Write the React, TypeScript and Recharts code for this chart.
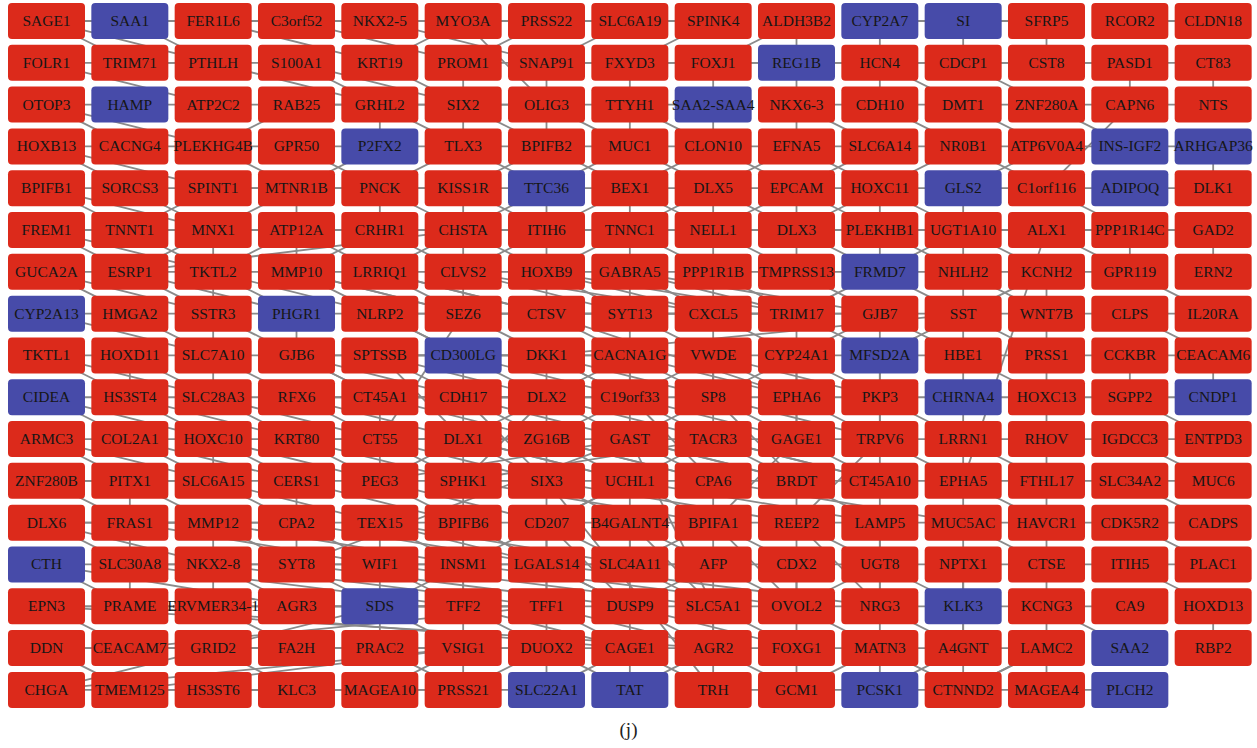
import React from "react";
import { ScatterChart, Scatter, XAxis, YAxis } from "recharts";

const row01 = ["SAGE1","SAA1","FER1L6","C3orf52","NKX2-5","MYO3A","PRSS22","SLC6A19","SPINK4","ALDH3B2","CYP2A7","SI","SFRP5","RCOR2","CLDN18"];
const row02 = ["FOLR1","TRIM71","PTHLH","S100A1","KRT19","PROM1","SNAP91","FXYD3","FOXJ1","REG1B","HCN4","CDCP1","CST8","PASD1","CT83"];
const row03 = ["OTOP3","HAMP","ATP2C2","RAB25","GRHL2","SIX2","OLIG3","TTYH1","SAA2-SAA4","NKX6-3","CDH10","DMT1","ZNF280A","CAPN6","NTS"];
const row04 = ["HOXB13","CACNG4","PLEKHG4B","GPR50","P2FX2","TLX3","BPIFB2","MUC1","CLON10","EFNA5","SLC6A14","NR0B1","ATP6V0A4","INS-IGF2","ARHGAP36"];
const row05 = ["BPIFB1","SORCS3","SPINT1","MTNR1B","PNCK","KISS1R","TTC36","BEX1","DLX5","EPCAM","HOXC11","GLS2","C1orf116","ADIPOQ","DLK1"];
const row06 = ["FREM1","TNNT1","MNX1","ATP12A","CRHR1","CHSTA","ITIH6","TNNC1","NELL1","DLX3","PLEKHB1","UGT1A10","ALX1","PPP1R14C","GAD2"];
const row07 = ["GUCA2A","ESRP1","TKTL2","MMP10","LRRIQ1","CLVS2","HOXB9","GABRA5","PPP1R1B","TMPRSS13","FRMD7","NHLH2","KCNH2","GPR119","ERN2"];
const row08 = ["CYP2A13","HMGA2","SSTR3","PHGR1","NLRP2","SEZ6","CTSV","SYT13","CXCL5","TRIM17","GJB7","SST","WNT7B","CLPS","IL20RA"];
const row09 = ["TKTL1","HOXD11","SLC7A10","GJB6","SPTSSB","CD300LG","DKK1","CACNA1G","VWDE","CYP24A1","MFSD2A","HBE1","PRSS1","CCKBR","CEACAM6"];
const row10 = ["CIDEA","HS3ST4","SLC28A3","RFX6","CT45A1","CDH17","DLX2","C19orf33","SP8","EPHA6","PKP3","CHRNA4","HOXC13","SGPP2","CNDP1"];
const row11 = ["ARMC3","COL2A1","HOXC10","KRT80","CT55","DLX1","ZG16B","GAST","TACR3","GAGE1","TRPV6","LRRN1","RHOV","IGDCC3","ENTPD3"];
const row12 = ["ZNF280B","PITX1","SLC6A15","CERS1","PEG3","SPHK1","SIX3","UCHL1","CPA6","BRDT","CT45A10","EPHA5","FTHL17","SLC34A2","MUC6"];
const row13 = ["DLX6","FRAS1","MMP12","CPA2","TEX15","BPIFB6","CD207","B4GALNT4","BPIFA1","REEP2","LAMP5","MUC5AC","HAVCR1","CDK5R2","CADPS"];
const row14 = ["CTH","SLC30A8","NKX2-8","SYT8","WIF1","INSM1","LGALS14","SLC4A11","AFP","CDX2","UGT8","NPTX1","CTSE","ITIH5","PLAC1"];
const row15 = ["EPN3","PRAME","ERVMER34-1","AGR3","SDS","TFF2","TFF1","DUSP9","SLC5A1","OVOL2","NRG3","KLK3","KCNG3","CA9","HOXD13"];
const row16 = ["DDN","CEACAM7","GRID2","FA2H","PRAC2","VSIG1","DUOX2","CAGE1","AGR2","FOXG1","MATN3","A4GNT","LAMC2","SAA2","RBP2"];
const row17 = ["CHGA","TMEM125","HS3ST6","KLC3","MAGEA10","PRSS21","SLC22A1","TAT","TRH","GCM1","PCSK1","CTNND2","MAGEA4","PLCH2"];

const gridRows = [row01,row02,row03,row04,row05,row06,row07,row08,row09,row10,row11,row12,row13,row14,row15,row16,row17];

const blueGenes = ["SAA1","CYP2A7","SI","REG1B","HAMP","SAA2-SAA4","P2FX2","INS-IGF2","ARHGAP36","TTC36","GLS2","ADIPOQ","FRMD7","CYP2A13","PHGR1","CD300LG","MFSD2A","CIDEA","CHRNA4","CNDP1","CTH","SDS","KLK3","SAA2","SLC22A1","TAT","PCSK1","PLCH2"];

const edges = [
"SAGE1|SAA1","SAA1|FER1L6","FER1L6|C3orf52","C3orf52|NKX2-5","NKX2-5|MYO3A","MYO3A|PRSS22","PRSS22|SLC6A19","SLC6A19|SPINK4","ALDH3B2|REG1B","CYP2A7|SI","SI|SFRP5","RCOR2|CLDN18","SAGE1|TRIM71","SAA1|PTHLH","FOLR1|PTHLH","TRIM71|S100A1","C3orf52|PROM1","NKX2-5|SNAP91","MYO3A|KRT19","FER1L6|KRT19","S100A1|GRHL2","PROM1|FXYD3","SNAP91|FOXJ1","FXYD3|HCN4","FOXJ1|CDCP1","HCN4|CST8","CDCP1|PASD1","CST8|CT83","SFRP5|CST8","PASD1|CAPN6","CT83|NTS",
"OTOP3|HAMP","HAMP|ATP2C2","ATP2C2|RAB25","RAB25|GRHL2","GRHL2|SIX2","SIX2|OLIG3","OLIG3|TTYH1","TTYH1|SAA2-SAA4","NKX6-3|CDH10","CDH10|DMT1","DMT1|ZNF280A","ZNF280A|CAPN6","CAPN6|NTS","OTOP3|CACNG4","RAB25|PLEKHG4B","GRHL2|TLX3","SIX2|BPIFB2","OLIG3|MUC1","TTYH1|CLON10","NKX6-3|SLC6A14","CDH10|NR0B1","DMT1|ATP6V0A4","ZNF280A|INS-IGF2",
"HOXB13|CACNG4","CACNG4|PLEKHG4B","PLEKHG4B|GPR50","GPR50|P2FX2","P2FX2|TLX3","TLX3|BPIFB2","BPIFB2|MUC1","MUC1|CLON10","CLON10|EFNA5","EFNA5|SLC6A14","SLC6A14|NR0B1","NR0B1|ATP6V0A4","ATP6V0A4|INS-IGF2","INS-IGF2|ARHGAP36","HOXB13|SORCS3","PLEKHG4B|MTNR1B","GPR50|PNCK","TLX3|TTC36","BPIFB2|BEX1","MUC1|DLX5","CLON10|EPCAM","EFNA5|HOXC11","NR0B1|C1orf116","ARHGAP36|DLK1",
"BPIFB1|SORCS3","SORCS3|SPINT1","SPINT1|MTNR1B","MTNR1B|PNCK","PNCK|KISS1R","KISS1R|TTC36","TTC36|BEX1","BEX1|DLX5","DLX5|EPCAM","EPCAM|HOXC11","HOXC11|GLS2","GLS2|C1orf116","C1orf116|ADIPOQ","ADIPOQ|DLK1","BPIFB1|TNNT1","SORCS3|MNX1","MTNR1B|ATP12A","PNCK|CHSTA","KISS1R|ITIH6","BEX1|NELL1","DLX5|DLX3","EPCAM|PLEKHB1","HOXC11|UGT1A10","C1orf116|PPP1R14C",
"FREM1|TNNT1","TNNT1|MNX1","MNX1|ATP12A","ATP12A|CRHR1","CRHR1|CHSTA","CHSTA|ITIH6","ITIH6|TNNC1","TNNC1|NELL1","NELL1|DLX3","DLX3|PLEKHB1","PLEKHB1|UGT1A10","UGT1A10|ALX1","ALX1|PPP1R14C","PPP1R14C|GAD2","FREM1|ESRP1","TNNT1|TKTL2","ATP12A|LRRIQ1","CRHR1|CLVS2","CHSTA|HOXB9","TNNC1|PPP1R1B","NELL1|TMPRSS13","DLX3|FRMD7","UGT1A10|KCNH2","ALX1|GPR119","GAD2|ERN2",
"GUCA2A|ESRP1","ESRP1|TKTL2","TKTL2|MMP10","MMP10|LRRIQ1","LRRIQ1|CLVS2","CLVS2|HOXB9","HOXB9|GABRA5","GABRA5|PPP1R1B","PPP1R1B|TMPRSS13","TMPRSS13|FRMD7","FRMD7|NHLH2","NHLH2|KCNH2","KCNH2|GPR119","GUCA2A|HMGA2","ESRP1|SSTR3","TKTL2|PHGR1","MMP10|NLRP2","LRRIQ1|SEZ6","HOXB9|SYT13","GABRA5|CXCL5","PPP1R1B|TRIM17","FRMD7|SST","NHLH2|WNT7B","GPR119|IL20RA",
"CYP2A13|HMGA2","HMGA2|SSTR3","SSTR3|PHGR1","PHGR1|NLRP2","NLRP2|SEZ6","SEZ6|CTSV","CTSV|SYT13","SYT13|CXCL5","CXCL5|TRIM17","TRIM17|GJB7","GJB7|SST","SST|WNT7B","WNT7B|CLPS","CLPS|IL20RA","HMGA2|SLC7A10","SSTR3|GJB6","NLRP2|CD300LG","SEZ6|DKK1","CTSV|CACNA1G","SYT13|VWDE","CXCL5|CYP24A1","GJB7|HBE1","SST|PRSS1","CLPS|CEACAM6",
"TKTL1|HOXD11","HOXD11|SLC7A10","SLC7A10|GJB6","GJB6|SPTSSB","SPTSSB|CD300LG","CD300LG|DKK1","DKK1|CACNA1G","CACNA1G|VWDE","VWDE|CYP24A1","CYP24A1|MFSD2A","MFSD2A|HBE1","HBE1|PRSS1","PRSS1|CCKBR","CCKBR|CEACAM6","TKTL1|HS3ST4","GJB6|CT45A1","SPTSSB|CDH17","DKK1|C19orf33","CACNA1G|SP8","VWDE|EPHA6","CYP24A1|PKP3","HBE1|HOXC13","CCKBR|SGPP2","CEACAM6|CNDP1",
"CIDEA|HS3ST4","HS3ST4|SLC28A3","SLC28A3|RFX6","RFX6|CT45A1","CT45A1|CDH17","CDH17|DLX2","DLX2|C19orf33","C19orf33|SP8","SP8|EPHA6","EPHA6|PKP3","PKP3|CHRNA4","CHRNA4|HOXC13","HOXC13|SGPP2","SGPP2|CNDP1","CIDEA|COL2A1","SLC28A3|KRT80","RFX6|CT55","CDH17|ZG16B","DLX2|GAST","SP8|GAGE1","EPHA6|TRPV6","PKP3|LRRN1","SGPP2|ENTPD3",
"ARMC3|COL2A1","COL2A1|HOXC10","HOXC10|KRT80","KRT80|CT55","CT55|DLX1","DLX1|ZG16B","ZG16B|GAST","GAST|TACR3","TACR3|GAGE1","GAGE1|TRPV6","TRPV6|LRRN1","LRRN1|RHOV","RHOV|IGDCC3","IGDCC3|ENTPD3","ARMC3|PITX1","HOXC10|CERS1","CT55|SPHK1","DLX1|SIX3","GAST|CPA6","TACR3|BRDT","GAGE1|CT45A10","LRRN1|FTHL17","IGDCC3|MUC6",
"ZNF280B|PITX1","PITX1|SLC6A15","SLC6A15|CERS1","CERS1|PEG3","PEG3|SPHK1","SPHK1|SIX3","SIX3|UCHL1","UCHL1|CPA6","CPA6|BRDT","BRDT|CT45A10","CT45A10|EPHA5","EPHA5|FTHL17","FTHL17|SLC34A2","SLC34A2|MUC6","ZNF280B|FRAS1","SLC6A15|CPA2","PEG3|BPIFB6","SIX3|B4GALNT4","UCHL1|BPIFA1","BRDT|LAMP5","EPHA5|HAVCR1","SLC34A2|CADPS",
"DLX6|FRAS1","FRAS1|MMP12","MMP12|CPA2","CPA2|TEX15","TEX15|BPIFB6","BPIFB6|CD207","CD207|B4GALNT4","B4GALNT4|BPIFA1","BPIFA1|REEP2","REEP2|LAMP5","LAMP5|MUC5AC","MUC5AC|HAVCR1","HAVCR1|CDK5R2","CDK5R2|CADPS","DLX6|SLC30A8","MMP12|SYT8","TEX15|INSM1","CD207|SLC4A11","BPIFA1|CDX2","REEP2|UGT8","MUC5AC|CTSE","CDK5R2|PLAC1",
"CTH|SLC30A8","SLC30A8|NKX2-8","NKX2-8|SYT8","SYT8|WIF1","WIF1|INSM1","INSM1|LGALS14","LGALS14|SLC4A11","SLC4A11|AFP","AFP|CDX2","CDX2|UGT8","UGT8|NPTX1","NPTX1|CTSE","CTSE|ITIH5","ITIH5|PLAC1","CTH|PRAME","NKX2-8|AGR3","WIF1|TFF2","LGALS14|DUSP9","AFP|OVOL2","UGT8|KLK3","ITIH5|HOXD13",
"EPN3|PRAME","PRAME|ERVMER34-1","ERVMER34-1|AGR3","AGR3|SDS","SDS|TFF2","TFF2|TFF1","TFF1|DUSP9","DUSP9|SLC5A1","SLC5A1|OVOL2","OVOL2|NRG3","NRG3|KLK3","KLK3|KCNG3","KCNG3|CA9","EPN3|CEACAM7","ERVMER34-1|FA2H","SDS|VSIG1","TFF1|CAGE1","SLC5A1|FOXG1","NRG3|A4GNT","KCNG3|SAA2","HOXD13|RBP2",
"DDN|CEACAM7","CEACAM7|GRID2","GRID2|FA2H","FA2H|PRAC2","PRAC2|VSIG1","VSIG1|DUOX2","DUOX2|CAGE1","CAGE1|AGR2","AGR2|FOXG1","FOXG1|MATN3","MATN3|A4GNT","A4GNT|LAMC2","DDN|TMEM125","GRID2|KLC3","PRAC2|PRSS21","DUOX2|TAT","AGR2|GCM1","MATN3|CTNND2","LAMC2|MAGEA4",
"CHGA|TMEM125","TMEM125|HS3ST6","HS3ST6|KLC3","KLC3|MAGEA10","MAGEA10|PRSS21","PRSS21|SLC22A1","TRH|GCM1","GCM1|PCSK1","PCSK1|CTNND2","CTNND2|MAGEA4","MAGEA4|PLCH2",
"CHGA|GRID2","CEACAM7|PRAC2","SYT8|GAST","SDS|UCHL1","KRT19|SIX2","CHGA|VSIG1","EPN3|TFF1","SLC30A8|AFP","GAST|SLC5A1","SIX3|TRH","DKK1|SST","CTSV|EPHA6","PEG3|DLX1","GJB6|CDH17","ESRP1|CHSTA","SPINT1|KISS1R","RAB25|OLIG3","MYO3A|OLIG3","S100A1|SIX2","PTHLH|GRHL2","CDCP1|ZNF280A","HCN4|DMT1","CAPN6|C1orf116","NLRP2|DLX2","SEZ6|CT55","TEX15|LGALS14","BPIFB6|DUSP9","MUC5AC|KLK3","LAMP5|NRG3","ALX1|EPHA5",
"CACNA1G|GAST","VWDE|TACR3","C19orf33|CPA6","SP8|BRDT","ZG16B|UCHL1","DLX2|SIX3","CDH17|SPHK1","CT45A1|PEG3","TACR3|CD207","GAGE1|BPIFA1","TRPV6|REEP2","EPHA6|GAGE1","PKP3|CT45A10","MFSD2A|TRPV6","CYP24A1|GAGE1","VWDE|SP8","TRIM17|EPHA6","GJB7|PKP3","SYT13|C19orf33","CXCL5|SP8","DKK1|DLX2","CD300LG|CDH17","SPTSSB|DLX1","HOXB9|CTSV","GABRA5|SYT13","CLVS2|SEZ6","CHSTA|CLVS2","ITIH6|HOXB9","TNNC1|GABRA5","B4GALNT4|SLC4A11","CPA6|AFP","BRDT|CDX2","UCHL1|SLC4A11","SIX3|LGALS14","SPHK1|INSM1","BPIFB6|LGALS14","CD207|DUSP9","B4GALNT4|SLC5A1","BPIFA1|OVOL2","REEP2|NRG3","LAMP5|UGT8","CDX2|FOXG1","AFP|AGR2","SLC4A11|CAGE1","LGALS14|DUOX2","INSM1|VSIG1","WIF1|PRAC2","TFF2|DUOX2","TFF1|AGR2","DUSP9|FOXG1","OVOL2|MATN3","NRG3|MATN3","VSIG1|PRSS21","DUOX2|SLC22A1","CAGE1|TAT","AGR2|TRH","FOXG1|GCM1",
"HOXC10|SLC6A15","KRT80|PEG3","CERS1|CPA2","CPA2|SYT8","MMP12|NKX2-8","FRAS1|SLC30A8","PITX1|FRAS1","COL2A1|SLC6A15","HS3ST4|HOXC10","SLC7A10|SLC28A3","HOXD11|HS3ST4","SSTR3|SLC7A10","PHGR1|GJB6","TKTL2|SSTR3","MNX1|TKTL2","ATP12A|MMP10","MTNR1B|MNX1","SPINT1|TNNT1","PNCK|CRHR1","KISS1R|CHSTA","TTC36|ITIH6","BEX1|TNNC1","DLX5|NELL1","EPCAM|DLX3","HOXC11|PLEKHB1","GLS2|UGT1A10","PLEKHB1|NHLH2","UGT1A10|NHLH2","KCNH2|WNT7B","PPP1R14C|GPR119","NHLH2|SST","KCNH2|SST","WNT7B|PRSS1","SST|HBE1","HBE1|CHRNA4","PRSS1|HOXC13","HOXC13|RHOV","CHRNA4|LRRN1","LRRN1|EPHA5","RHOV|FTHL17","TRPV6|EPHA5","CT45A10|LAMP5","EPHA5|MUC5AC","FTHL17|HAVCR1","HAVCR1|CTSE","NPTX1|KLK3","CTSE|KCNG3","UGT8|NRG3","NPTX1|A4GNT","KLK3|A4GNT","KCNG3|LAMC2","A4GNT|CTNND2","LAMC2|CTNND2","MATN3|PCSK1",
"DLX1|CACNA1G","ZG16B|VWDE","GAST|CYP24A1","TACR3|DKK1","SPHK1|DLX2","SIX3|CDH17","UCHL1|DLX1","CPA6|ZG16B","BRDT|GAST","CT45A10|TACR3","SPHK1|TACR3","PEG3|GAST","CT55|ZG16B","KRT80|DLX1","CDH17|C19orf33","CT45A1|DLX2","RFX6|CDH17","CD300LG|CACNA1G","SPTSSB|DKK1","GJB6|CD300LG","NLRP2|CTSV","SEZ6|SYT13","CTSV|CXCL5","SYT13|TRIM17","CXCL5|GJB7","HOXB9|CXCL5","CLVS2|SYT13","GABRA5|TRIM17","LRRIQ1|CTSV","MMP10|SEZ6","B4GALNT4|AFP","BPIFA1|SLC4A11","CD207|LGALS14","BPIFB6|INSM1","TEX15|WIF1","CPA2|WIF1","SLC4A11|SLC5A1","AFP|DUSP9","CDX2|OVOL2","UGT8|OVOL2","LGALS14|TFF1","INSM1|TFF2","SYT8|SDS","NKX2-8|ERVMER34-1","SLC30A8|PRAME","SDS|TFF1","AGR3|TFF2","TFF2|CAGE1","DUSP9|AGR2","SLC5A1|AGR2","FA2H|VSIG1","GRID2|PRAC2","CEACAM7|FA2H","TMEM125|KLC3","HS3ST6|MAGEA10","KLC3|PRSS21","MAGEA10|VSIG1","PRSS21|DUOX2","CAGE1|TRH","SLC22A1|CAGE1","TAT|AGR2","GCM1|MATN3","PCSK1|A4GNT","CTNND2|LAMC2",
"DLX5|TNNC1","BEX1|ITIH6","TTC36|CHSTA","EPCAM|NELL1","HOXC11|DLX3","DLX3|TMPRSS13","NELL1|PPP1R1B","TNNC1|HOXB9","ITIH6|CLVS2","CHSTA|LRRIQ1","CRHR1|MMP10","ATP12A|TKTL2","MNX1|ESRP1","PLEKHB1|FRMD7","UGT1A10|FRMD7","TMPRSS13|GJB7","FRMD7|TRIM17","PPP1R1B|CXCL5","TRIM17|MFSD2A","GJB7|CYP24A1","SST|MFSD2A","EFNA5|DLX5","CLON10|BEX1","MUC1|TTC36","BPIFB2|KISS1R","TLX3|PNCK","P2FX2|MTNR1B","SLC6A14|EPCAM","NR0B1|HOXC11","ATP6V0A4|GLS2","OLIG3|BPIFB2","TTYH1|MUC1","SAA2-SAA4|CLON10","NKX6-3|EFNA5","SIX2|TLX3","GRHL2|P2FX2","PROM1|SIX2","SNAP91|OLIG3","FXYD3|TTYH1","FOXJ1|SAA2-SAA4","REG1B|NKX6-3","HCN4|CDH10","PRSS22|PROM1","SLC6A19|SNAP91","SPINK4|FXYD3","ALDH3B2|FOXJ1","CYP2A7|HCN4","SI|CDCP1",
"EPN3|AGR2","PRAME|CAGE1","DDN|DUOX2","CEACAM7|TFF1","TMEM125|VSIG1","GRID2|SDS","SLC30A8|TFF2","CTH|AGR3","NKX2-8|TFF1","SYT8|DUSP9","WIF1|SLC5A1","INSM1|OVOL2","LGALS14|NRG3","TEX15|SLC4A11","CPA2|LGALS14","MMP12|INSM1","FRAS1|WIF1","DLX6|NKX2-8","SLC6A15|TEX15","CERS1|BPIFB6","PEG3|CD207","SPHK1|BPIFA1","SIX3|REEP2","UCHL1|LAMP5","CPA6|MUC5AC","PITX1|MMP12","KRT80|SPHK1","CT55|SIX3","DLX1|UCHL1","ZG16B|CPA6","GAST|BRDT","TACR3|CT45A10","HOXC10|PEG3","COL2A1|CERS1","HS3ST4|KRT80","SLC28A3|CT55","RFX6|DLX1","CT45A1|ZG16B","CDH17|GAST","DLX2|TACR3","C19orf33|GAGE1","SP8|TRPV6","SLC7A10|RFX6","GJB6|CT45A1","HOXD11|SLC28A3","SPTSSB|DLX2","CD300LG|C19orf33","DKK1|SP8","CACNA1G|EPHA6","VWDE|PKP3","TKTL2|NLRP2","MMP10|SEZ6","LRRIQ1|CTSV","CLVS2|CXCL5","HOXB9|TRIM17","GABRA5|GJB7","ESRP1|PHGR1","FRAS1|CPA2","DLX6|MMP12","ARMC3|SLC6A15","ZNF280B|SLC6A15","CIDEA|HOXC10","TKTL1|SLC28A3","CYP2A13|SLC7A10","GUCA2A|SSTR3","FREM1|TKTL2","BPIFB1|MNX1","HOXB13|SPINT1","OTOP3|PLEKHG4B","FOLR1|ATP2C2","SAGE1|PTHLH"
];

const nodes = gridRows.flatMap((names, r) =>
  names.map((name, c) => ({ name, col: c, row: r, blue: blueGenes.includes(name) }))
);
const nodeByName: Record<string, { name: string; col: number; row: number }> = {};
nodes.forEach((n) => { nodeByName[n.name] = n; });

const edgeSegments = edges
  .map((e) => e.split("|"))
  .filter(([a, b]) => nodeByName[a] && nodeByName[b])
  .map(([a, b]) => [
    { col: nodeByName[a].col, row: nodeByName[a].row },
    { col: nodeByName[b].col, row: nodeByName[b].row },
  ]);

const RED = "#dc2a1b";
const BLUE = "#474ba9";

const NodeShape = (props: any) => {
  const { cx, cy, payload } = props;
  if (cx == null || cy == null) return <g />;
  const w = 77;
  const h = 36;
  return (
    <g>
      <rect x={cx - w / 2} y={cy - h / 2} width={w} height={h} rx={4} ry={4} fill={payload.blue ? BLUE : RED} />
      <text
        x={cx}
        y={cy + 5}
        textAnchor="middle"
        fontFamily="'Liberation Serif', 'Times New Roman', serif"
        fontSize={15.5}
        fill="#161616"
      >
        {payload.name}
      </text>
    </g>
  );
};

const NoShape = () => <g />;

const W = 1257;
const H = 748;
const M = { top: 0, right: 0, bottom: 0, left: 0 };

export default function App() {
  return (
    <div style={{ position: "absolute", left: 0, top: 0, width: W, height: H, background: "#fff" }}>
      <div style={{ position: "absolute", left: 0, top: 0 }}>
        <ScatterChart width={W} height={H} margin={M}>
          <XAxis type="number" dataKey="col" domain={[-0.558, 14.526]} hide allowDataOverflow />
          <YAxis type="number" dataKey="row" domain={[-0.502, 17.39]} reversed hide allowDataOverflow />
          {edgeSegments.map((seg, i) => (
            <Scatter
              key={"e" + i}
              data={seg}
              line={{ stroke: "#8a8a8a", strokeWidth: 1.8 }}
              shape={NoShape}
              isAnimationActive={false}
              legendType="none"
            />
          ))}
        </ScatterChart>
      </div>
      <div style={{ position: "absolute", left: 0, top: 0 }}>
        <ScatterChart width={W} height={H} margin={M}>
          <XAxis type="number" dataKey="col" domain={[-0.558, 14.526]} hide allowDataOverflow />
          <YAxis type="number" dataKey="row" domain={[-0.502, 17.39]} reversed hide allowDataOverflow />
          <Scatter data={nodes} shape={NodeShape} isAnimationActive={false} />
        </ScatterChart>
      </div>
      <div
        style={{
          position: "absolute",
          left: 0,
          top: 719,
          width: W,
          textAlign: "center",
          fontFamily: "'Liberation Serif', 'Times New Roman', serif",
          fontSize: 19,
          color: "#222",
        }}
      >
        (j)
      </div>
    </div>
  );
}
